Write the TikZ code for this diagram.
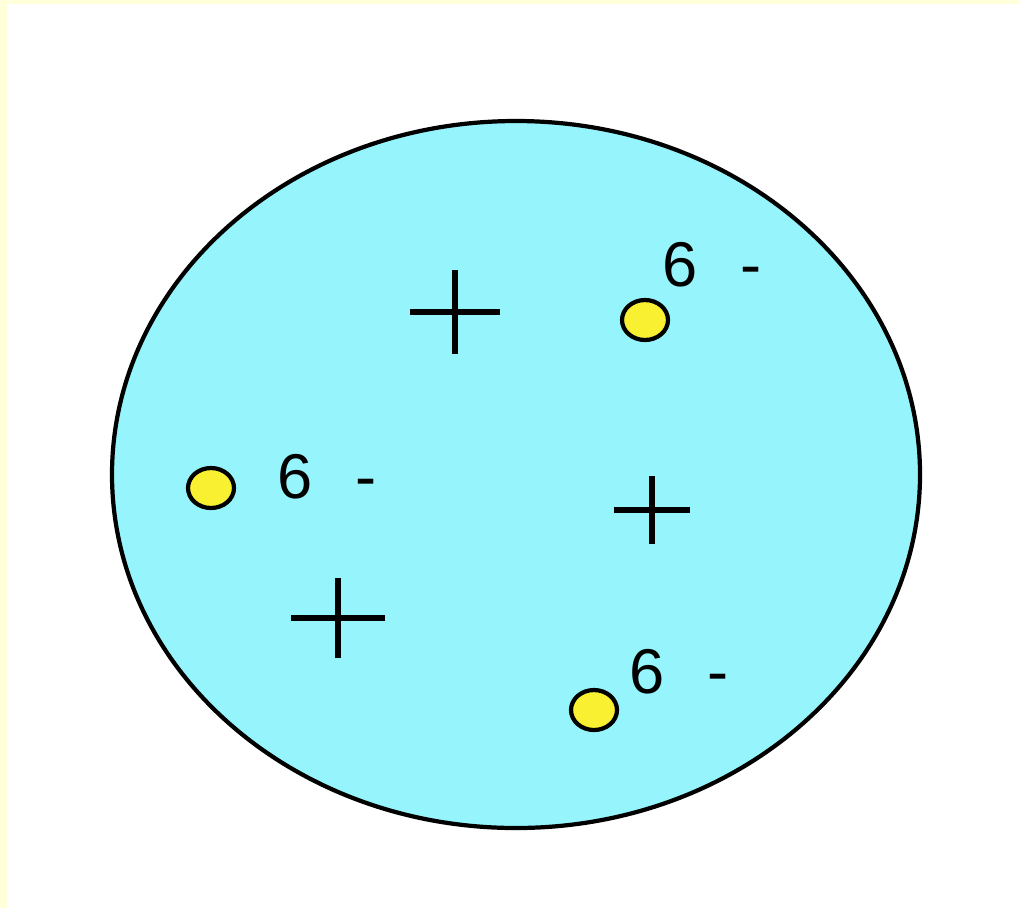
\documentclass[tikz,border=0pt]{standalone}
\usepackage{fontspec}
\setsansfont{Liberation Sans}
\usetikzlibrary{shapes.geometric}
\definecolor{cellcyan}{RGB}{150,245,252}
\definecolor{dotyellow}{RGB}{250,240,50}
\definecolor{framecream}{RGB}{255,255,218}

\begin{document}
\begin{tikzpicture}[x=1cm,y=1cm]
\tikzset{
  electron/.style={ellipse,draw,line width=1.2pt,fill=dotyellow,minimum width=4.6mm,minimum height=4mm,inner sep=0pt},
  charge/.style={font=\sffamily\fontsize{18}{20}\selectfont,inner sep=0pt},
  plussign/.style={line width=1.5pt}
}
\useasboundingbox (0,0) rectangle (10.20,9.08);
\fill[framecream] (0,9.04) rectangle (10.20,9.08);
\fill[framecream] (0,0) rectangle (0.07,9.08);
% the cell
\draw[line width=1.2pt,fill=cellcyan] (5.16,4.335) ellipse [x radius=4.04,y radius=3.535];
% protons
\coordinate (p_A) at (4.55,5.96);
\coordinate (p_B) at (6.52,3.98);
\coordinate (p_C) at (3.38,2.90);
\draw[plussign] ([xshift=-4.5mm]p_A) -- ([xshift=4.5mm]p_A);
\draw[plussign] ([yshift=-4.2mm]p_A) -- ([yshift=4.2mm]p_A);
\draw[plussign] ([xshift=-3.8mm]p_B) -- ([xshift=3.8mm]p_B);
\draw[plussign] ([yshift=-3.4mm]p_B) -- ([yshift=3.4mm]p_B);
\draw[plussign] ([xshift=-4.7mm]p_C) -- ([xshift=4.7mm]p_C);
\draw[plussign] ([yshift=-4mm]p_C) -- ([yshift=4mm]p_C);
% electrons
\node[electron] (e_A) at (6.45,5.88) {};
\node[electron] (e_B) at (2.11,4.20) {};
\node[electron] (e_C) at (5.94,1.98) {};
\node[charge] (q_A) at (7.12,6.43) {6\hspace{2.6mm} -};
\node[charge] (q_B) at (3.27,4.31) {6\hspace{2.6mm} -};
\node[charge] (q_C) at (6.79,2.36) {6\hspace{2.6mm} -};
\end{tikzpicture}
\end{document}
